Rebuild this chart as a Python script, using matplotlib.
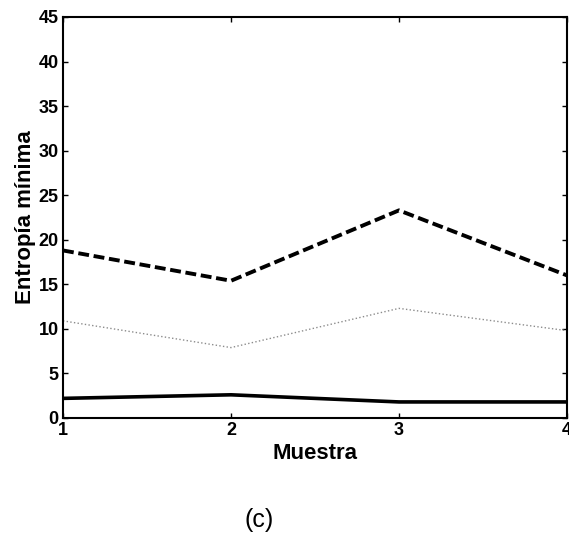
import numpy as np
import matplotlib.pyplot as plt

plt.rcParams['font.family'] = ['Liberation Sans', 'DejaVu Sans']

muestra = [1, 2, 3, 4]
entropia_a = [18.8, 15.4, 23.3, 16.0]   # dashed
entropia_b = [10.9, 7.9, 12.3, 9.8]     # gray dotted
entropia_c = [2.2, 2.6, 1.8, 1.8]       # solid
yticks = list(range(0, 50, 5))

fig = plt.figure(figsize=(5.69, 5.41), dpi=100)
ax = fig.add_axes([0.1107, 0.2274, 0.8858, 0.7412])

ax.plot(muestra, entropia_a, color='black', lw=2.8, ls=(0, (2.8, 1.2)))
ax.plot(muestra, entropia_b, color='#8c8c8c', lw=1.0, ls=':')
ax.plot(muestra, entropia_c, color='black', lw=2.6)

ax.set_xlim(1, 4)
ax.set_ylim(0, 45)
ax.set_xticks(muestra)
ax.set_yticks(yticks)
ax.tick_params(direction='in', top=True, right=True, length=3.5, width=1, labelsize=13, pad=3)
for lab in ax.get_xticklabels() + ax.get_yticklabels():
    lab.set_fontweight('bold')
for s in ax.spines.values():
    s.set_linewidth(1.5)

ax.set_xlabel('Muestra', fontsize=16, fontweight='bold', labelpad=3)
ax.set_ylabel('Entropía mínima', fontsize=16, fontweight='bold', labelpad=2)

fig.text(0.455, 0.039, '(c)', fontsize=18, ha='center', va='center')

fig.savefig('out.png', dpi=100)
